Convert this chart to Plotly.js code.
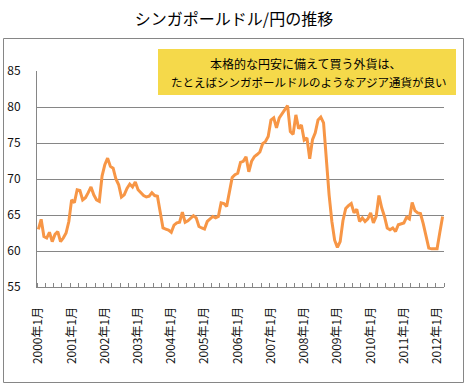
<!DOCTYPE html>
<html>
<head>
<meta charset="utf-8">
<script src="https://cdn.plot.ly/plotly-3.0.1.min.js"></script>
<style>html,body{margin:0;padding:0;background:#fff;}#chart{width:468px;height:388px;}</style>
</head>
<body>
<div id="chart"></div>
<script>
// Monthly SGD/JPY, 2000年1月 .. 2012年3月
const rate2000 = [63.0, 64.4, 62.0, 61.8, 62.6, 61.3, 62.3, 62.7, 61.3, 61.8, 62.5, 64.1];
const rate2001 = [67.1, 66.7, 68.5, 68.4, 67.1, 67.4, 68.1, 68.9, 67.8, 67.1, 66.9, 70.4];
const rate2002 = [72.0, 72.9, 71.75, 71.5, 70.0, 69.2, 67.5, 67.8, 68.7, 69.3, 68.9, 69.6];
const rate2003 = [68.5, 68.1, 67.7, 67.5, 67.6, 68.1, 67.7, 67.6, 65.4, 63.2, 63.05, 62.9];
const rate2004 = [62.6, 63.6, 63.9, 64.0, 65.4, 64.0, 64.2, 64.6, 64.9, 64.6, 63.4, 63.2];
const rate2005 = [63.05, 64.1, 64.5, 64.8, 64.6, 64.8, 66.7, 66.6, 66.2, 68.5, 70.2, 70.6];
const rate2006 = [70.8, 72.3, 72.45, 73.1, 71.0, 72.45, 73.1, 73.4, 73.75, 74.9, 75.2, 75.9];
const rate2007 = [78.2, 78.5, 77.1, 78.5, 79.1, 79.7, 80.2, 76.6, 76.2, 78.9, 77.0, 77.5];
const rate2008 = [75.4, 75.7, 72.8, 75.45, 76.4, 78.2, 78.6, 77.8, 72.4, 67.8, 64.1, 61.5];
const rate2009 = [60.5, 61.3, 64.2, 65.9, 66.3, 66.6, 65.3, 65.8, 64.1, 64.6, 64.1, 64.45];
const rate2010 = [65.3, 63.9, 64.8, 67.7, 66.0, 64.8, 63.2, 62.95, 63.2, 62.7, 63.65, 63.8];
const rate2011 = [63.9, 64.7, 64.45, 66.75, 65.6, 65.3, 65.2, 63.8, 62.0, 60.4, 60.3, 60.3];
const rate2012 = [60.3, 62.6, 64.8];

const yearLabels = ['2000年1月','2001年1月','2002年1月','2003年1月','2004年1月','2005年1月',
  '2006年1月','2007年1月','2008年1月','2009年1月','2010年1月','2011年1月','2012年1月'];
const yTicks = [55, 60, 65, 70, 75, 80, 85];

const chartTitle = 'シンガポールドル/円の推移';
const noteLine1 = '本格的な円安に備えて買う外貨は、';
const noteLine2 = 'たとえばシンガポールドルのようなアジア通貨が良い';

const rates = [].concat(rate2000, rate2001, rate2002, rate2003, rate2004, rate2005,
  rate2006, rate2007, rate2008, rate2009, rate2010, rate2011, rate2012);
const monthIndex = rates.map((v, i) => i);
const yearTickVals = yearLabels.map((t, k) => k * 12);

// layout geometry (pixels)
const W = 468, H = 388;
const M = {l: 37, r: 24, t: 71, b: 101};
const PW = W - M.l - M.r, PH = H - M.t - M.b;
const px = x => (x - M.l) / PW;
const py = y => (H - M.b - y) / PH;

const FONT = '"Noto Sans CJK JP", "Noto Sans", sans-serif';
const GRID = '#868686';

const trace = {
  x: monthIndex, y: rates, type: 'scatter', mode: 'lines',
  line: {color: '#F79646', width: 3}, hoverinfo: 'skip'
};

const layout = {
  width: W, height: H,
  margin: M,
  paper_bgcolor: '#fff', plot_bgcolor: '#fff',
  showlegend: false,
  font: {family: FONT, size: 12, color: '#111'},
  title: {text: chartTitle, font: {family: FONT, size: 16, color: '#000'},
    x: 0.5, xref: 'container', xanchor: 'center',
    y: 1 - 19 / H, yref: 'container', yanchor: 'middle'},
  xaxis: {
    range: [-0.5, rates.length - 0.5], tickmode: 'array',
    tickvals: yearTickVals, ticktext: yearLabels, tickangle: -90,
    ticks: '', ticklabelstandoff: 14, showgrid: false, zeroline: false,
    showline: true, linecolor: GRID, linewidth: 1,
    tickfont: {family: FONT, size: 12, color: '#111'},
    minor: {ticks: 'inside', ticklen: 4, tickwidth: 1, tickcolor: GRID,
      tickmode: 'linear', tick0: -0.5, dtick: 3, showgrid: false}
  },
  yaxis: {
    range: [55, 85], tickmode: 'array', tickvals: yTicks,
    ticks: '', ticklabelstandoff: 13, showgrid: true, gridcolor: GRID, gridwidth: 1,
    zeroline: false, showline: true, linecolor: GRID, linewidth: 1,
    tickfont: {family: FONT, size: 12, color: '#111'}
  },
  shapes: [
    {type: 'rect', xref: 'paper', yref: 'paper',
      x0: px(3.5), x1: px(463.5), y0: py(382.5), y1: py(38.5),
      line: {color: GRID, width: 1}, fillcolor: 'rgba(0,0,0,0)', layer: 'above'},
    {type: 'rect', xref: 'paper', yref: 'paper',
      x0: px(158), x1: px(456), y0: py(95), y1: py(49),
      line: {width: 0}, fillcolor: '#F5D94A', layer: 'above'}
  ],
  annotations: [
    {text: noteLine1, xref: 'paper', yref: 'paper', x: px(305), y: py(63.5),
      xanchor: 'center', yanchor: 'middle', showarrow: false,
      font: {family: FONT, size: 12, color: '#000'}},
    {text: noteLine2, xref: 'paper', yref: 'paper', x: px(309), y: py(81.5),
      xanchor: 'center', yanchor: 'middle', showarrow: false,
      font: {family: FONT, size: 11.5, color: '#000'}}
  ]
};

Plotly.newPlot('chart', [trace], layout, {staticPlot: true, displayModeBar: false});
</script>
</body>
</html>
